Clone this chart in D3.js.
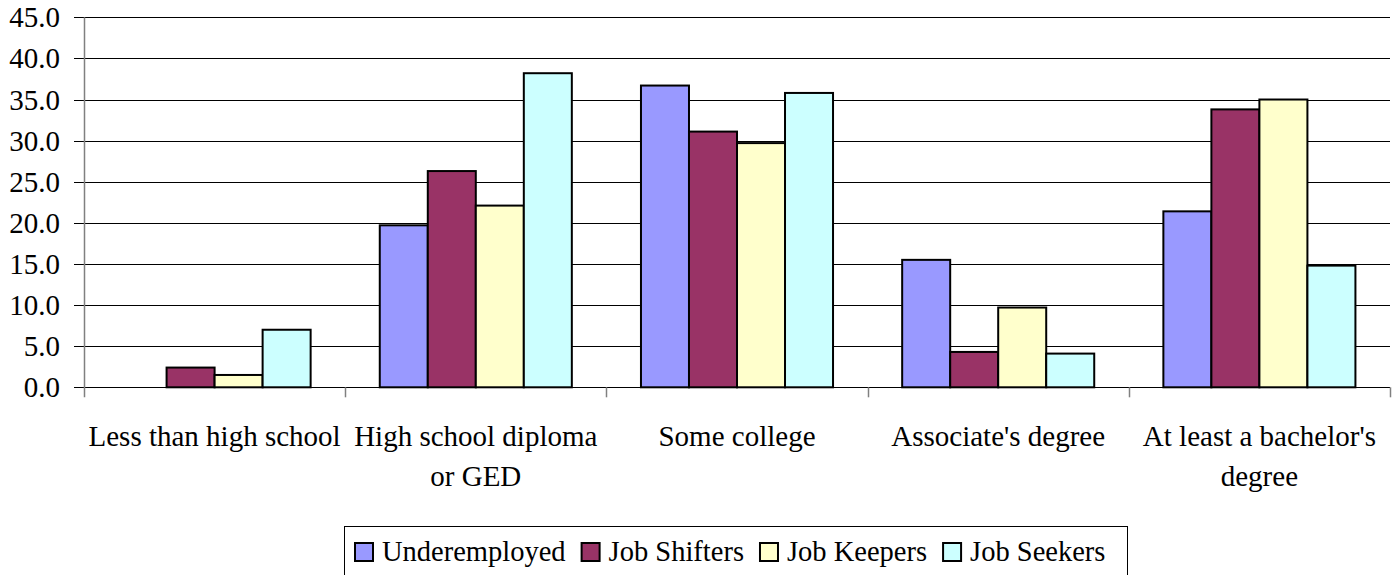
<!DOCTYPE html>
<html>
<head>
<meta charset="utf-8">
<script src="https://cdn.jsdelivr.net/npm/d3@7/dist/d3.min.js"></script>
<style>
  html, body { margin: 0; padding: 0; background: #fff; }
  svg { display: block; }
  svg text { font-family: "Liberation Serif", Tinos, "Times New Roman", Times, "DejaVu Serif", serif !important; fill: #000; }
</style>
</head>
<body>
<svg id="chart" width="1399" height="575"></svg>
<script>
const categories = [
  ["Less than high school"],
  ["High school diploma", "or GED"],
  ["Some college"],
  ["Associate's degree"],
  ["At least a bachelor's", "degree"]
];
const seriesNames = ["Underemployed", "Job Shifters", "Job Keepers", "Job Seekers"];
const seriesColors = ["#9999FF", "#993366", "#FFFFCC", "#CCFFFF"];
const underemployed = [null, 19.7, 36.7, 15.5, 21.4];
const jobShifters   = [2.4, 26.3, 31.1, 4.3, 33.8];
const jobKeepers    = [1.5, 22.1, 29.7, 9.7, 35.0];
const jobSeekers    = [7.0, 38.2, 35.8, 4.1, 14.8];
const yTicks = [0, 5, 10, 15, 20, 25, 30, 35, 40, 45];

const seriesValues = [underemployed, jobShifters, jobKeepers, jobSeekers];
const catKeys = categories.map((c, i) => i);
const FONT = '"Liberation Serif", Tinos, "Times New Roman", Times, "DejaVu Serif", serif';

const svg = d3.select("#chart");
const plot = { left: 84, right: 1390, top: 17.3, bottom: 387.3 };

const y = d3.scaleLinear().domain([0, 45]).range([plot.bottom, plot.top]);
const x0 = d3.scaleBand().domain(catKeys).range([plot.left, plot.right]).paddingInner(0).paddingOuter(0);
const x1 = d3.scaleBand().domain(d3.range(seriesNames.length)).range([0, x0.bandwidth()]).paddingInner(0).paddingOuter(0.72);

// gridlines
const grid = svg.append("g");
grid.selectAll("line").data(yTicks).join("line")
  .attr("x1", plot.left - 10).attr("x2", plot.right)
  .attr("y1", d => Math.round(y(d)) + 0.5).attr("y2", d => Math.round(y(d)) + 0.5)
  .attr("stroke", "#000").attr("stroke-width", 1.2);

// y labels
const yAxis = d3.axisLeft(y).tickValues(yTicks).tickFormat(d3.format(".1f")).tickSize(0).tickPadding(0);
const yg = svg.append("g").attr("transform", `translate(${plot.left - 24},0)`).call(yAxis);
yg.attr("font-family", FONT);
yg.select(".domain").remove();
yg.selectAll("text").attr("font-size", 29).attr("fill", "#000").attr("dy", "0.33em");

// bars
const bars = svg.append("g");
catKeys.forEach(ci => {
  seriesValues.forEach((vals, si) => {
    const v = vals[ci];
    if (v === null || v === undefined) return;
    bars.append("rect")
      .attr("x", x0(ci) + x1(si))
      .attr("y", y(v))
      .attr("width", x1.bandwidth())
      .attr("height", y(0) - y(v))
      .attr("fill", seriesColors[si])
      .attr("stroke", "#000")
      .attr("stroke-width", 2);
  });
});

// left axis line
svg.append("line")
  .attr("x1", plot.left + 0.5).attr("x2", plot.left + 0.5)
  .attr("y1", plot.top).attr("y2", plot.bottom + 10)
  .attr("stroke", "#808080").attr("stroke-width", 1.5);

// x axis ticks
const xTickPos = catKeys.map(ci => x0(ci) + x0.bandwidth());
svg.append("g").selectAll("line").data(xTickPos).join("line")
  .attr("x1", d => Math.round(d) + 0.5).attr("x2", d => Math.round(d) + 0.5)
  .attr("y1", plot.bottom).attr("y2", plot.bottom + 10)
  .attr("stroke", "#808080").attr("stroke-width", 1.5);

// category labels
const xl = svg.append("g").attr("font-family", FONT);
categories.forEach((lines, ci) => {
  const cx = x0(ci) + x0.bandwidth() / 2;
  lines.forEach((ln, li) => {
    xl.append("text")
      .attr("x", cx).attr("y", 446 + li * 40)
      .attr("text-anchor", "middle")
      .attr("font-size", 29)
      .text(ln);
  });
});

// legend
const legend = svg.append("g").attr("font-family", FONT);
legend.append("rect")
  .attr("x", 344.5).attr("y", 526.5).attr("width", 783).attr("height", 60)
  .attr("fill", "#fff").attr("stroke", "#000").attr("stroke-width", 1);
let cursor = 354;
seriesNames.forEach((name, si) => {
  legend.append("rect").attr("x", cursor + 1).attr("y", 543).attr("width", 18).attr("height", 18)
    .attr("fill", seriesColors[si]).attr("stroke", "#000").attr("stroke-width", 2);
  const t = legend.append("text").attr("x", cursor + 28).attr("y", 561).attr("font-size", 28.5).text(name);
  const w = t.node().getComputedTextLength();
  cursor = cursor + 28 + w + 15;
});
</script>
</body>
</html>
